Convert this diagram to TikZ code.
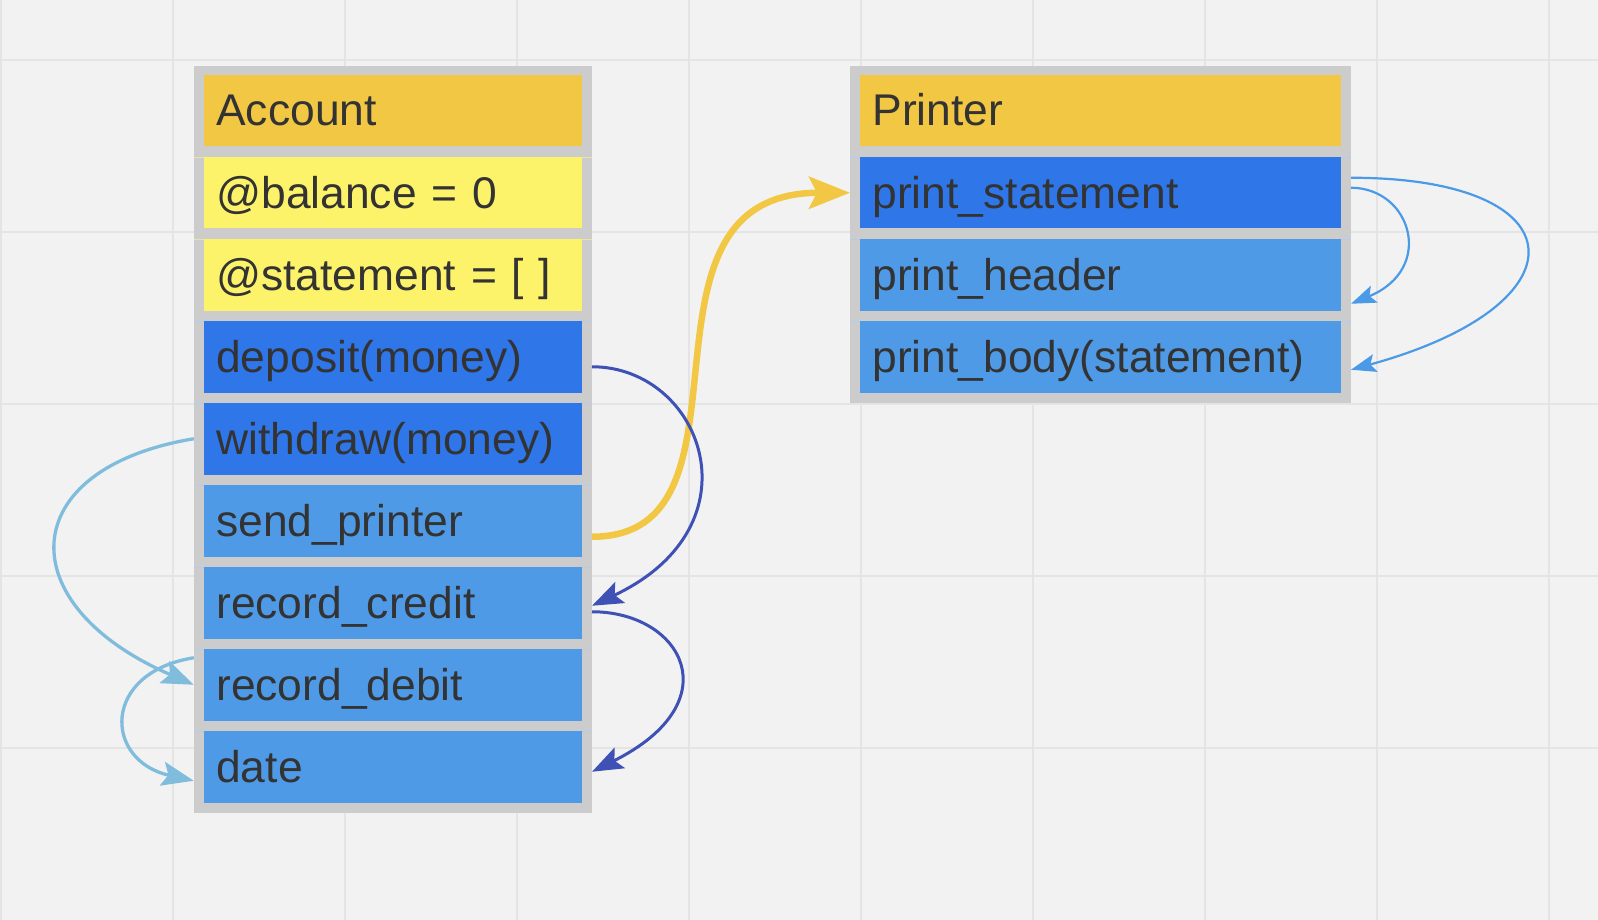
\documentclass[tikz,border=0pt]{standalone}
\usepackage{fontspec}
\setmainfont{Liberation Sans}
\usetikzlibrary{arrows.meta,calc}
\definecolor{bg}{HTML}{F2F2F2}
\definecolor{gridc}{HTML}{E4E4E4}
\definecolor{framec}{HTML}{CCCCCC}
\definecolor{hdr}{HTML}{F2C744}
\definecolor{attr}{HTML}{FDF36B}
\definecolor{mdark}{HTML}{2F76E8}
\definecolor{mlight}{HTML}{4F9AE6}
\definecolor{txt}{HTML}{333333}
\definecolor{indigo}{HTML}{3F51B5}
\definecolor{sky}{HTML}{80BCDC}
\definecolor{pblue}{HTML}{4A9AE8}
\definecolor{seprb}{HTML}{B4CDEA}
\definecolor{sepry}{HTML}{E8E3A8}
\begin{document}
\begin{tikzpicture}[x=1pt,y=-1pt,
  frm/.style={fill=framec, draw=none, inner sep=0pt, anchor=north west},
  cell/.style={draw=none, anchor=west, inner xsep=12.5pt, inner ysep=0pt,
    minimum height=71.5pt, text height=36pt, text depth=5.5pt, align=left,
    outer sep=10pt, font=\fontsize{44.4}{50}\selectfont, text=txt},
  acell/.style={cell, text width=353.2pt},
  pcell/.style={cell, text width=456pt},
  gline/.style={draw=gridc, line width=2pt},
  yl/.style={draw=hdr, line width=6.5pt, -{Stealth[length=41pt,width=32pt,inset=8pt]}},
  ind/.style={draw=indigo, line width=3pt, -{Stealth[length=31pt,width=23pt,inset=6pt]}},
  sk/.style={draw=sky, line width=3.3pt, -{Stealth[length=32pt,width=24pt,inset=6pt]}},
  prl/.style={draw=pblue, line width=2.2pt, -{Stealth[length=25pt,width=18pt,inset=5pt]}}
]
\useasboundingbox (0,0) rectangle (1598,920);
\fill[bg] (0,0) rectangle (1598,920);
\foreach \gx in {1.3,173.3,345.3,517.3,689.3,861.3,1033.3,1205.3,1377.3,1549.3}
  \draw[gline] (\gx,0) -- (\gx,920);
\foreach \gy in {59.7,231.7,403.7,575.7,747.7}
  \draw[gline] (0,\gy) -- (1598,\gy);

% frames
\node[frm, minimum width=398.4pt, minimum height=747pt] (accf) at (193.6,65.5) {};
\node[frm, minimum width=501pt, minimum height=337pt] (prf) at (850,65.5) {};

% faint separators
\foreach \sy in {157,239} \draw[sepry, line width=0.8pt] (193.6,\sy) -- (592,\sy);
\foreach \sy in {321,403,485,567,649,731} \draw[seprb, line width=0.8pt] (193.6,\sy) -- (592,\sy);
\foreach \sy in {157,239,321} \draw[seprb, line width=0.8pt] (850,\sy) -- (1351,\sy);

% Account cells
\node[acell, fill=hdr] (acc) at (193.8,110.75) {Account};
\node[acell, fill=attr] (bal) at (193.8,192.75) {@balance = 0};
\node[acell, fill=attr] (stm) at (193.8,274.75) {@statement = [ ]};
\node[acell, fill=mdark] (dep) at (193.8,356.75) {deposit(money)};
\node[acell, fill=mdark] (wd) at (193.8,438.75) {withdraw(money)};
\node[acell, fill=mlight] (sp) at (193.8,520.75) {send\_printer};
\node[acell, fill=mlight] (rc) at (193.8,602.75) {record\_credit};
\node[acell, fill=mlight] (rd) at (193.8,684.75) {record\_debit};
\node[acell, fill=mlight] (dt) at (193.8,766.75) {date};

% Printer cells
\node[pcell, fill=hdr] (prt) at (850,110.75) {Printer};
\node[pcell, fill=mdark] (ps) at (850,192.75) {print\_statement};
\node[pcell, fill=mlight] (ph) at (850,274.75) {print\_header};
\node[pcell, fill=mlight] (pb) at (850,356.75) {print\_body(statement)};

% connectors
\draw[yl] ($(sp.east)+(0,16)$) .. controls +(179,0) and +(-235,0) .. (ps.west);
\draw[ind] ($(dep.east)+(0,10)$) .. controls +(110,0) and +(170,-80) .. ($(rc.east)+(0,3)$);
\draw[ind] ($(rc.east)+(0,9)$) .. controls +(90,0) and +(140,-70) .. ($(dt.east)+(0,5)$);
\draw[sk] (wd.west) .. controls +(-180,30) and +(-185,-80) .. (rd.west);
\draw[sk] ($(rd.west)+(0,-27)$) .. controls +(-93,15) and +(-90,-20) .. ($(dt.west)+(0,14)$);
\draw[prl] ($(ps.east)+(0,-5)$) .. controls +(60,0) and +(85,-35) .. ($(ph.east)+(0,29)$);
\draw[prl] ($(ps.east)+(0,-15)$) .. controls +(230,0) and +(237,-65) .. ($(pb.east)+(0,13)$);
\end{tikzpicture}
\end{document}
